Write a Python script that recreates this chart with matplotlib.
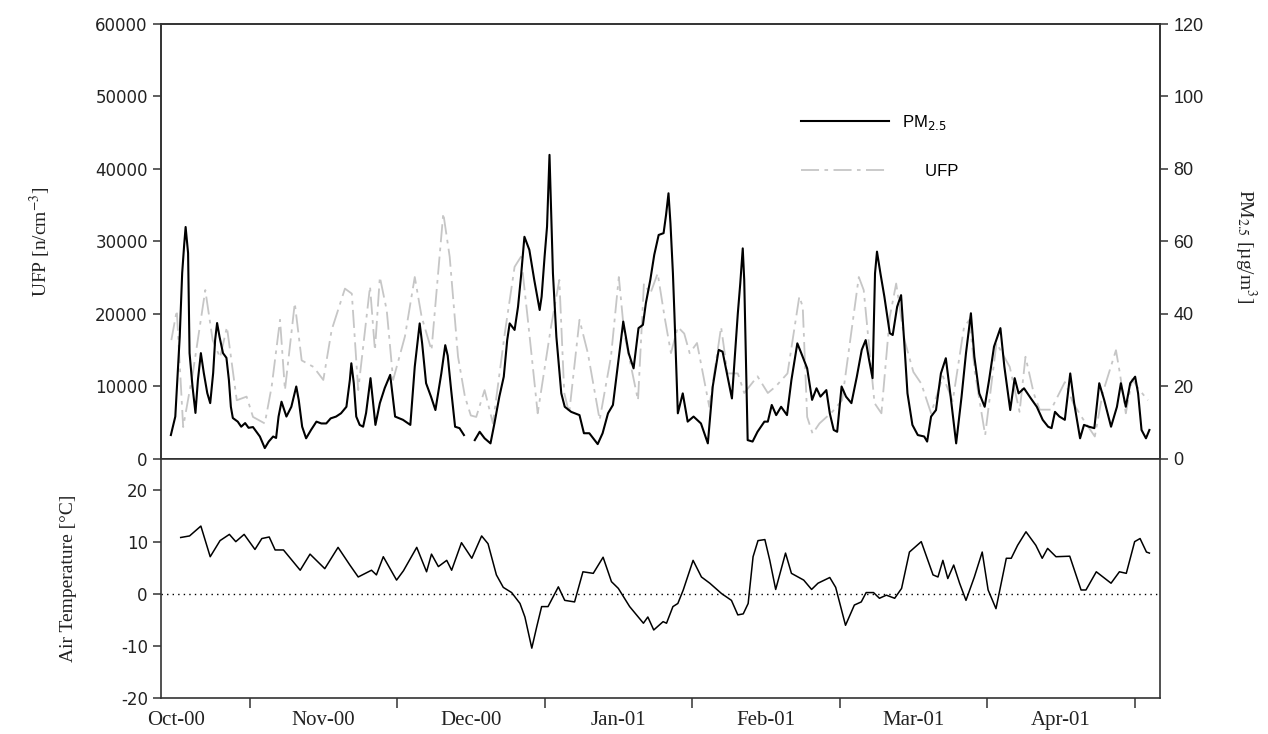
import numpy as np
import matplotlib.pyplot as plt
from matplotlib.font_manager import FontProperties

# ---- data (x = day index, ticks every 30 days) ----
pm_day = [2.0, 2.9, 3.8, 4.3, 4.7, 5.0, 5.5, 5.8, 6.4, 7.0, 7.5, 8.1, 8.7, 9.4, 10.0,
          10.6, 11.0, 11.4, 11.9, 12.6, 13.3, 13.8, 14.2, 14.6, 15.6, 16.3, 17.1, 17.8,
          18.7, 19.4, 20.1, 21.1, 21.9, 22.8, 23.4, 23.9, 24.5, 25.5, 26.5, 27.5, 28.0,
          28.7, 29.5, 30.5, 31.6, 32.6, 33.6, 34.5, 35.6, 36.6, 37.7, 38.4, 38.7, 39.2,
          39.7, 40.4, 41.1, 41.7, 42.6, 43.6, 44.5, 45.5, 46.6, 47.6, 49.2, 50.7, 51.6,
          52.6, 53.1, 53.9, 54.9, 55.8, 57.0, 57.8, 58.3, 59.0, 59.8, 60.7, 61.6, 62.7,
          63.8, 64.8, 65.8, 67.0, 67.8, 68.8, 69.7, 70.4, 70.9, 71.9, 72.6, 73.2, 73.9,
          74.9, 75.9, 77.0, 77.4, 78.0, 78.5, 79.0, 79.7, 80.4, 81.4, 82.1, 83.4, 85.1,
          86.0, 87.1, 88.8, 89.8, 90.9, 91.9, 92.7, 93.4, 94.0, 95.1, 96.1, 97.1, 98.0,
          98.6, 99.5, 100.3, 101.2, 102.2, 102.7, 103.2, 103.6, 104.1, 104.4, 105.1,
          106.1, 107.1, 108.3, 109.8, 111.2, 112.2, 113.4, 114.2, 116.1, 117.3, 117.8,
          118.3, 118.6, 119.3, 120.3, 121.3, 122.7, 123.4, 124.2, 125.1, 126.1, 127.3,
          128.2, 129.4, 130.2, 131.4, 132.4, 133.3, 134.1, 135.3, 136.0, 136.8, 137.5,
          138.4, 139.3, 140.4, 141.5, 142.5, 143.3, 144.0, 144.7, 145.2, 145.6, 146.3,
          147.1, 148.2, 148.8, 149.7, 150.5, 151.2, 151.8, 152.8, 153.9, 155.2, 155.8,
          156.6, 157.6, 158.6, 159.6, 160.5, 161.7, 162.8, 163.7, 164.7, 165.4, 166.4,
          167.5, 168.4, 169.4, 170.7, 171.5, 172.7, 173.6, 174.4, 175.5, 176.9, 178.1,
          179.3, 180.4, 181.1, 181.8, 182.7, 183.8, 184.9, 185.7, 186.9, 187.7, 188.7,
          189.8, 190.8, 191.8, 193.2, 194.4, 195.2, 196.2, 197.1, 198.1, 198.7, 199.4,
          200.3, 201.0]
pm_val = [6.6, 11.7, 33.7, 51.3, 59, 64, 56.8, 29.2, 20, 12.7, 21.8, 29.2, 23.7, 18.2, 15.4,
          23.7, 32.8, 37.5, 33.7, 29.2, 27.9, 21.8, 14.4, 11.3, 10.3, 8.9, 9.9, 8.6,
          8.8, 7.5, 6.2, 3.0, 4.8, 6.2, 5.8, 11.7, 15.8, 11.7, 14.4, 20, 16.3,
          8.9, 5.7, 8, 10.3, 9.8, 9.8, 11.2, 11.7, 12.6, 14.4, 21.8, 26.4, 20.9,
          11.7, 9.4, 8.9, 12.7, 22.3, 9.4, 15.4, 19.6, 23.2, 11.7, 10.8, 9.4, 25.5,
          37.4, 31.9, 20.9, 17.2, 13.5, 23.6, 31.4, 28.5, 19, 8.9, 8.5, 6.6, np.nan,
          5.2, 7.5, 5.7, 4.3, 9.8, 17.2, 22.7, 32.8, 37.4, 35.6, 42, 50.3, 61.3,
          57.7, 49.4, 41.1, 44.8, 55.8, 64.1, 83.9, 51.2, 33.7, 18.1, 14.4, 13, 12.1,
          7.1, 7.1, 4.1, 7.1, 12.6, 14.9, 23.6, 31, 37.9, 29.2, 25, 36.1, 37,
          43, 49.4, 56.3, 61.8, 62.3, 67.3, 73.3, 65, 51.2, 40.2, 12.6,
          18.1, 10.3, 11.7, 9.8, 4.3, 20, 30.1, 29.6, 16.7, 40.2, 48.5,
          58.1, 49.4, 5.2, 4.8, 7.5, 10.3, 10.3, 14.9, 12.1, 14.4, 12.1,
          21.8, 31.9, 29.2, 25, 16.3, 19.5, 17.2, 19, 12.6, 8, 7.5,
          20, 17.2, 15.4, 22.7, 30.1, 32.8, 27.3, 22.3, 51.2, 57.2, 51.2,
          44.8, 34.7, 34.2, 42, 45.2, 31, 18.1, 9.4, 6.6, 6.2, 4.8,
          11.7, 13.5, 23.6, 27.8, 18.1, 4.3, 17.2, 29.2, 40.2, 28.2, 18.1,
          14.4, 21.8, 31, 36.1, 25.5, 13.5, 22.3, 18.1, 19.5, 16.7, 14.4,
          10.8, 8.9, 8.5, 13, 11.7, 10.8, 23.6, 15.4, 5.7, 9.4, 8.9,
          8.5, 20.9, 16.3, 8.9, 14.4, 20.9, 14.4, 20.9, 22.7, 18.1, 8,
          5.7, 8]

ufp_day = [2.1, 3.2, 4.5, 6.5, 9.0, 10.5, 12.0, 13.4, 15.4, 17.4, 18.7, 21.1, 22.5, 24.2,
           25.2, 27.2, 28.6, 31.0, 33.0, 34.7, 37.4, 38.8, 40.1, 42.5, 43.5, 44.5, 45.9,
           47.2, 49.6, 51.6, 53.0, 55.0, 57.4, 58.7, 60.4, 61.8, 63.0, 64.1, 65.8, 67.5,
           69.9, 71.9, 73.2, 74.6, 76.6, 79.3, 81.0, 82.0, 83.0, 85.1, 86.8, 89.2, 91.5,
           93.1, 94.2, 97.0, 98.2, 99.5, 101.0, 102.4, 103.7, 105.1, 106.4, 107.5, 109.0,
           111.5, 113.9, 115.2, 117.3, 118.6, 121.3, 123.4, 125.0, 127.4, 129.8, 130.5,
           131.4, 132.5, 133.9, 136.5, 138.5, 141.9, 142.9, 145.1, 146.5, 148.2, 149.5,
           151.2, 153.0, 154.6, 156.6, 159.0, 161.0, 163.3, 164.4, 165.5, 167.6, 169.9,
           172.6, 174.6, 175.8, 177.5, 178.7, 181.0, 183.8, 185.5, 187.5, 189.9, 191.5,
           194.2, 195.0, 196.2, 197.5, 199.0, 200.7]
ufp_val = [16400, 20500, 4400, 12000, 23300, 16400, 14000, 18200, 8100, 8600, 5800, 4900,
           10000, 19200, 9500, 21500, 13600, 12700, 10900, 17800, 23500, 22800, 9500,
           23800, 15000, 25100, 20500, 10900, 16900, 25100, 19600, 15000, 33900, 27900,
           14100, 8600, 6000, 5800, 9500, 4900, 17300, 26500, 27900, 19200, 6300, 18200,
           24700, 9100, 6300, 19200, 14600, 5400, 14100, 25100, 17300, 8100, 24200,
           22800, 25600, 19600, 14600, 18200, 17300, 14600, 16000, 7200, 18200, 11800,
           11800, 9100, 11400, 9100, 10000, 11800, 22400, 21000, 5800, 3500, 4900, 6500,
           8100, 25100, 23300, 7700, 6300, 19600, 24200, 16400, 12000, 10400, 6300,
           11400, 8000, 18200, 19200, 12000, 3300, 16000, 12700, 6500, 14100, 9000,
           6800, 6800, 10600, 7700, 5500, 3100, 9100, 15000, 11800, 6300, 11000, 9500,
           8100]

temp_day = [4.0, 5.8, 8.1, 10.0, 12.0, 13.9, 15.2, 16.9, 19.1, 20.5, 22.0, 23.2, 24.9,
            28.3, 30.3, 33.3, 36.0, 38.4, 40.1, 42.8, 43.8, 45.2, 47.9, 49.3, 52.0, 54.0,
            55.0, 56.4, 58.1, 59.1, 61.1, 63.2, 65.2, 66.5, 68.2, 69.6, 71.3, 73.0, 74.0,
            75.4, 76.4, 77.4, 78.7, 80.8, 82.1, 84.1, 85.8, 87.9, 89.9, 91.6, 93.0, 95.3,
            98.1, 99.0, 100.2, 102.1, 102.8, 104.1, 105.1, 106.2, 108.2, 109.9, 111.6,
            114.0, 116.0, 117.3, 118.4, 119.4, 120.4, 121.4, 122.8, 123.8, 125.0, 127.0,
            128.2, 130.7, 132.3, 133.6, 136.0, 137.2, 139.2, 141.0, 142.4, 143.4, 144.9,
            146.1, 147.5, 149.2, 150.6, 152.2, 154.6, 157.0, 158.0, 159.0, 160.0, 161.2,
            162.4, 163.7, 165.4, 167.0, 168.2, 169.8, 171.9, 172.9, 174.2, 175.9, 177.9,
            179.2, 180.3, 182.0, 184.8, 187.1, 188.1, 190.2, 193.2, 194.9, 196.3, 198.0,
            199.1, 200.4, 201.0]
temp_val = [10.9, 11.2, 13.1, 7.2, 10.3, 11.5, 10.1, 11.5, 8.6, 10.7, 11.0, 8.5, 8.5,
            4.6, 7.7, 4.9, 9.0, 5.6, 3.3, 4.6, 3.7, 7.2, 2.7, 4.5, 9.0, 4.3,
            7.7, 5.3, 6.5, 4.6, 9.9, 6.9, 11.2, 9.7, 3.7, 1.3, 0.3, -1.8, -4.4,
            -10.4, -6.3, -2.4, -2.4, 1.4, -1.2, -1.5, 4.3, 4.0, 7.1, 2.4, 1.1, -2.4,
            -5.6, -4.4, -6.9, -5.3, -5.6, -2.4, -1.8, 0.8, 6.5, 3.3, 2.1,
            0.1, -1.2, -4.0, -3.8, -1.8, 7.2, 10.3, 10.5, 6.5, 0.9, 7.9,
            4.0, 2.7, 0.9, 2.1, 3.2, 1.3, -6.0, -2.1, -1.5, 0.3, 0.3,
            -0.8, -0.2, -0.8, 1.1, 8.1, 10.1, 3.7, 3.3, 6.5, 3.0, 5.6,
            2.1, -1.2, 3.3, 8.1, 0.8, -2.8, 6.9, 6.9, 9.4, 12.0, 9.4,
            6.9, 8.8, 7.2, 7.3, 0.8, 0.8, 4.3, 2.1, 4.3, 4.0, 10.1,
            10.7, 8.1, 7.9]

month_labels = ['Oct-00', 'Nov-00', 'Dec-00', 'Jan-01', 'Feb-01', 'Mar-01', 'Apr-01']
month_edges = [18, 48, 78, 108, 138, 168, 198]
label_pos = [3, 33, 63, 93, 123, 153, 183]

plt.rcParams['mathtext.fontset'] = 'stix'
plt.rcParams['axes.unicode_minus'] = False
axis_col = '#333333'
serif = 'Liberation Serif'

fig = plt.figure(figsize=(12.68, 7.34), dpi=100)
ax = fig.add_axes([0.127, 0.3747, 0.788, 0.5926])
ax2 = ax.twinx()
axt = fig.add_axes([0.127, 0.049, 0.788, 0.3256])

# top panel
ln_ufp, = ax.plot(ufp_day, ufp_val, color='#c6c6c6', lw=1.3, dashes=[10, 3, 2, 3])
ln_pm, = ax2.plot(pm_day, pm_val, color='black', lw=1.5)

ax.set_xlim(0, 203.2)
ax.set_ylim(0, 60000)
ax2.set_ylim(0, 120)
ax.set_yticks(np.arange(0, 60001, 10000))
ax.set_yticklabels([str(v) for v in range(0, 60001, 10000)])
ax2.set_yticks(np.arange(0, 121, 20))
ax.tick_params(axis='x', bottom=False, labelbottom=False)
ax.tick_params(axis='y', direction='out', length=6, width=1.1, colors=axis_col,
               labelsize=12, labelcolor='#222222')
ax2.tick_params(axis='y', direction='out', length=6, width=1.1, colors=axis_col,
                labelsize=13, labelcolor='#222222')
for t in ax2.get_yticklabels():
    t.set_fontfamily(['Liberation Sans Narrow', 'Liberation Sans'])

for a in (ax, ax2, axt):
    for s in a.spines.values():
        s.set_color(axis_col)
        s.set_linewidth(1.2)

ax.set_ylabel(r'UFP [n/cm$^{-3}$]', fontfamily=serif, fontsize=14, color='#222222')
ax.yaxis.set_label_coords(-0.108, 0.5)
ax2.set_ylabel(r'PM$_{\mathit{2.5}}$ [µg/m$^{3}$]', fontfamily=serif, fontsize=14,
               color='#222222', rotation=270, va='center')
ax2.yaxis.set_label_coords(1.085, 0.49)

leg_font = FontProperties(family='Liberation Sans', size=12, math_fontfamily='dejavusans')
leg = ax2.legend([ln_pm, ln_ufp], [r'PM$_{\mathit{2.5}}$', '     UFP'],
                 loc='upper left', bbox_to_anchor=(0.625, 0.83), frameon=False,
                 prop=leg_font, handlelength=5.3, labelspacing=1.9, handletextpad=0.8)

# bottom panel
axt.plot(temp_day, temp_val, color='black', lw=1.1)
axt.axhline(0, color='black', lw=1.0, ls=(0, (1, 3)))
axt.set_xlim(0, 203.2)
axt.set_ylim(-20, 26)
axt.set_yticks([-20, -10, 0, 10, 20])
axt.tick_params(axis='y', direction='out', length=6, width=1.1, colors=axis_col,
                labelsize=12, labelcolor='#222222')
axt.set_xticks(month_edges)
axt.set_xticklabels([])
axt.set_xticks(label_pos, minor=True)
axt.set_xticklabels(month_labels, minor=True, fontfamily=serif, fontsize=15)
axt.tick_params(axis='x', which='major', direction='out', length=7, width=1.1, colors=axis_col)
axt.tick_params(axis='x', which='minor', length=0, pad=9, labelcolor='#222222')
axt.set_ylabel('Air Temperature [°C]', fontfamily=serif, fontsize=14, color='#222222')
axt.yaxis.set_label_coords(-0.084, 0.5)

fig.savefig('out.png', dpi=100)
